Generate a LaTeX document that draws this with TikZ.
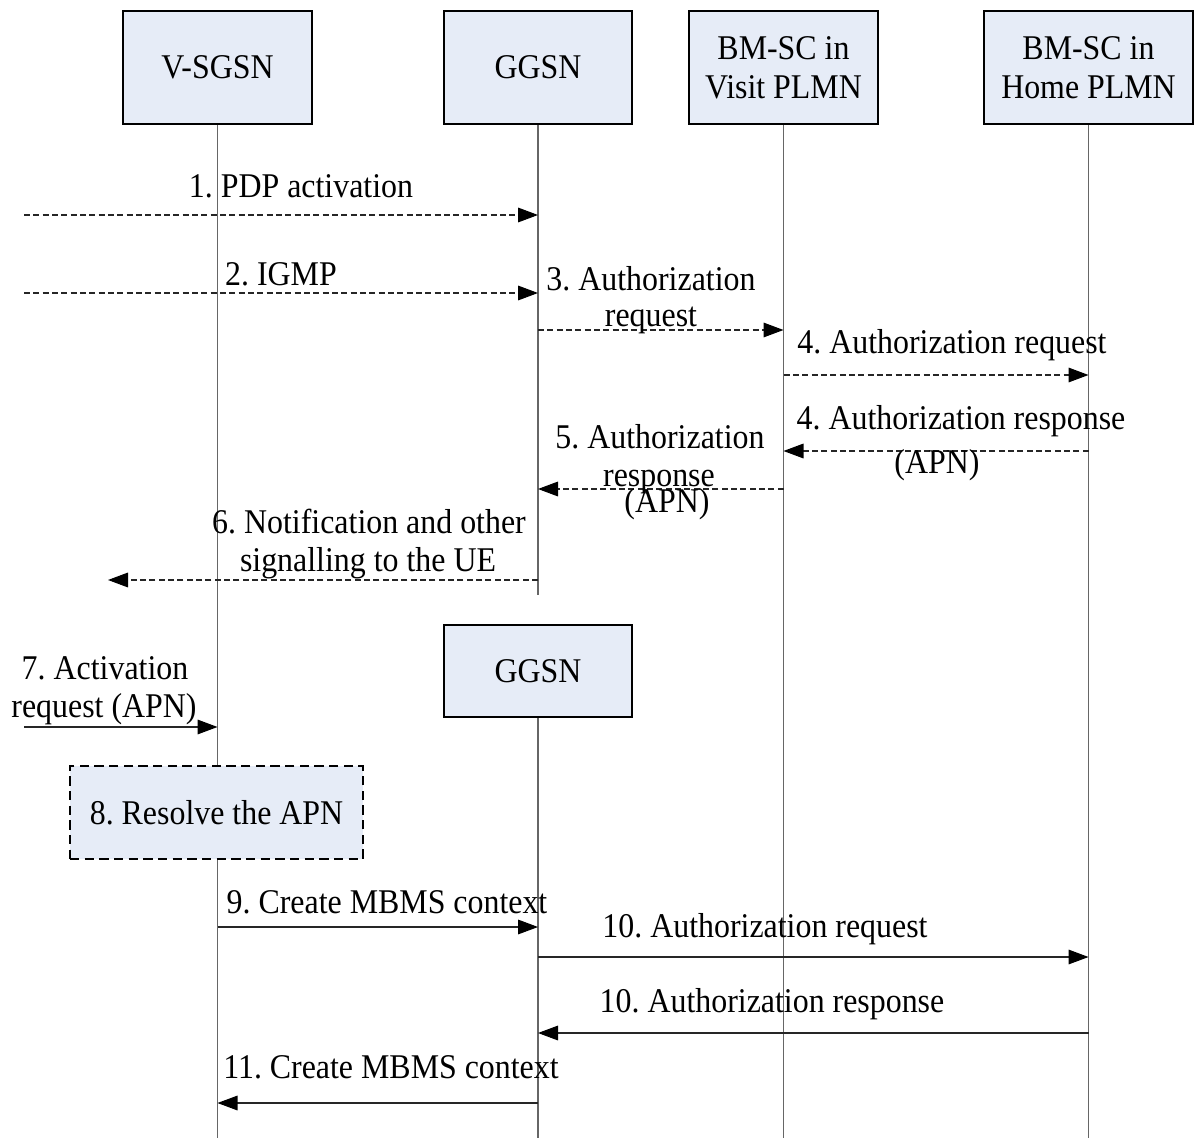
\documentclass[tikz,border=0pt]{standalone}
\usepackage{fontspec}
\setmainfont[FakeStretch=0.92]{Liberation Serif}
\usetikzlibrary{arrows.meta}
\definecolor{boxfill}{HTML}{E6ECF7}
\begin{document}
\frenchspacing
\begin{tikzpicture}[x=0.75pt,y=-0.75pt,
  ent/.style={draw=black, line width=1.5pt, fill=boxfill, inner sep=0pt, align=center,
    font=\fontsize{26pt}{29pt}\selectfont},
  life/.style={draw=black!60, line width=0.9pt},
  msg/.style={draw=black!85, line width=0.8pt, -{Triangle[length=15pt,width=11pt,fill=black,color=black]}},
  dsh/.style={dash pattern=on 4.5pt off 2.5pt},
  lbl/.style={font=\fontsize{26pt}{29pt}\selectfont, anchor=base, inner sep=0pt}
]
\useasboundingbox (0,0) rectangle (1195,1138);

% lifeline end points
\coordinate (vEnd) at (217.5,1138);
\coordinate (gEnd) at (538,595);
\coordinate (bvEnd) at (783.5,1138);
\coordinate (bhEnd) at (1088.5,1138);
\coordinate (g2End) at (538,1138);

\draw[life] (217.5,124) -- (vEnd);
\draw[life] (538,124) -- (gEnd);
\draw[life] (783.5,124) -- (bvEnd);
\draw[life] (1088.5,124) -- (bhEnd);
\draw[life] (538,717) -- (g2End);

\node[ent, minimum width=141.75pt, minimum height=84.75pt] (v) at (217.5,67.5) {V-SGSN};
\node[ent, minimum width=141pt, minimum height=84.75pt] (g) at (538,67.5) {GGSN};
\node[ent, minimum width=141.75pt, minimum height=84.75pt] (bv) at (783.5,67.5) {BM-SC in\\Visit PLMN};
\node[ent, minimum width=156.75pt, minimum height=84.75pt] (bh) at (1088.5,67.5) {BM-SC in\\Home PLMN};
\node[ent, minimum width=141pt, minimum height=69pt] (g2) at (538,671) {GGSN};
\node[ent, dash pattern=on 7pt off 4pt, minimum width=219.75pt, minimum height=69.75pt] (res) at (216.5,812.5) {8. Resolve the APN};

% free ends
\coordinate (s1) at (24,215);
\coordinate (s2) at (24,293);
\coordinate (e6) at (108,580);
\coordinate (s7) at (24,727);

% messages
\draw[msg,dsh] (s1) -- (s1 -| g);
\draw[msg,dsh] (s2) -- (s2 -| g);
\draw[msg,dsh] (538,330) -- (783.5,330);
\draw[msg,dsh] (783.5,375) -- (1088.5,375);
\draw[msg,dsh] (1088.5,451) -- (783.5,451);
\draw[msg,dsh] (783.5,489) -- (538,489);
\draw[msg,dsh] (e6 -| g) -- (e6);
\draw[msg] (s7) -- (s7 -| v);
\draw[msg] (217.5,927) -- (538,927);
\draw[msg] (538,957) -- (1088.5,957);
\draw[msg] (1088.5,1033) -- (538,1033);
\draw[msg] (538,1103) -- (217.5,1103);

% labels
\node[lbl] (l1) at (301,197) {1. PDP activation};
\node[lbl] (l2) at (281,285) {2. IGMP};
\node[lbl] (l3a) at (651,290) {3. Authorization};
\node[lbl] (l3b) at (651,326) {request};
\node[lbl] (l4a) at (952,353) {4. Authorization request};
\node[lbl] (l4b) at (961,429) {4. Authorization response};
\node[lbl] (l4c) at (937,473) {(APN)};
\node[lbl] (l5a) at (660,448) {5. Authorization};
\node[lbl] (l5b) at (659,486) {response};
\node[lbl] (l5c) at (667,512) {(APN)};
\node[lbl] (l6a) at (369,533) {6. Notification and other};
\node[lbl] (l6b) at (368,571) {signalling to the UE};
\node[lbl] (l7a) at (105,679) {7. Activation};
\node[lbl] (l7b) at (104,717) {request (APN)};
\node[lbl] (l9) at (387,913) {9. Create MBMS context};
\node[lbl] (l10a) at (765,937) {10. Authorization request};
\node[lbl] (l10b) at (772,1012) {10. Authorization response};
\node[lbl] (l11) at (391,1078) {11. Create MBMS context};
\end{tikzpicture}
\end{document}
